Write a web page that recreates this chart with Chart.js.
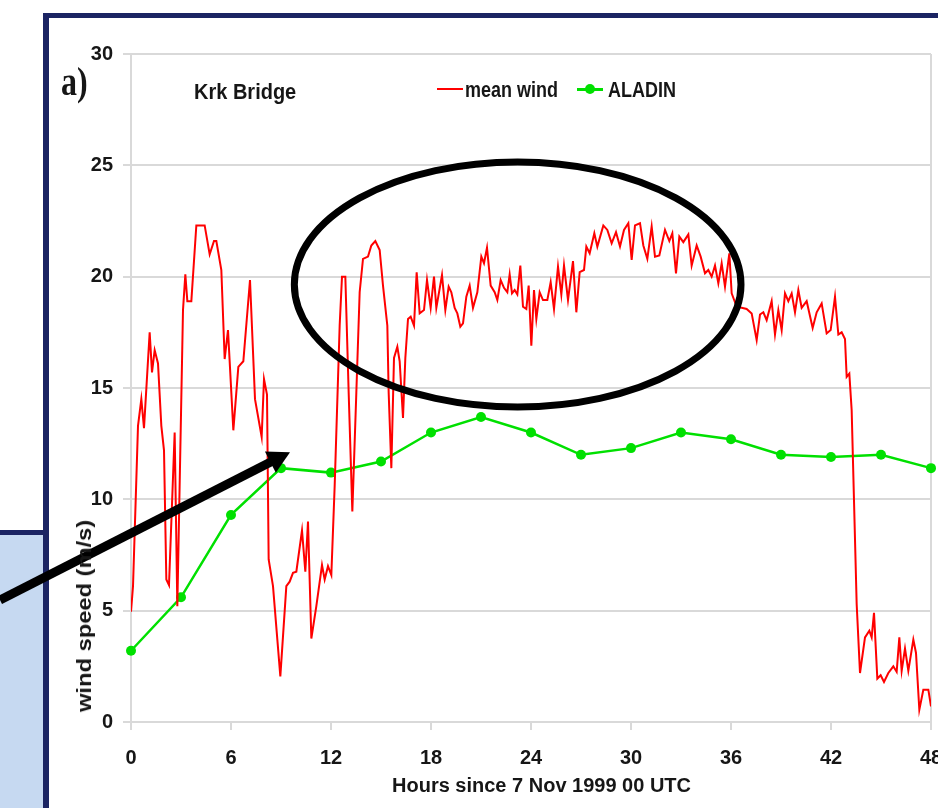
<!DOCTYPE html>
<html lang="en">
<head>
<meta charset="UTF-8">
<title>Krk Bridge mean wind vs ALADIN</title>
<script src="https://cdn.jsdelivr.net/npm/chart.js"></script>
<style>
  body { margin: 0; background: #fff; }
  #wrap { position: relative; width: 938px; height: 808px; overflow: hidden; }
  #chart { position: absolute; left: 0; top: 0; }
  .lbl {
    position: absolute; white-space: nowrap; color: #161616;
    font-family: 'Liberation Sans', Arial, sans-serif; font-weight: bold;
    line-height: 1; transform-origin: 0 0;
  }
  .swatch { position: absolute; height: 0; }
</style>
</head>
<body>
<div id="wrap">
  <canvas id="chart" width="938" height="808"></canvas>

  <div class="lbl" id="panel" style="left:61px; top:61px; font-family:'Liberation Serif','Times New Roman',serif; font-size:32px; transform:scaleY(1.25);">a)</div>
  <div class="lbl" style="left:194px; top:80px; font-size:20px; transform:scaleY(1.12);">Krk Bridge</div>

  <!-- legend -->
  <div class="swatch" style="left:437px; top:88px; width:26px; border-top:2px solid #ff0000;"></div>
  <div class="lbl" style="left:465px; top:79px; font-size:18px; transform:scaleY(1.2);">mean wind</div>
  <div class="swatch" style="left:577px; top:88px; width:26px; border-top:3px solid #00e000;"></div>
  <div class="swatch" style="left:585px; top:84px; width:10px; height:10px; border-radius:50%; background:#00e000;"></div>
  <div class="lbl" style="left:608px; top:79px; font-size:18px; transform:scaleY(1.2);">ALADIN</div>

  <div class="lbl" style="left:74px; top:712px; font-size:20px; transform:rotate(-90deg) scaleX(1.185);">wind speed (m/s)</div>
  <div class="lbl" style="left:392px; top:774px; font-size:20px; transform:scaleY(1.05);">Hours since 7 Nov 1999 00 UTC</div>
</div>

<script>
  // measured wind at the bridge (hours since 00 UTC, m/s)
  const windHours = [
    0.00, 0.12, 0.42, 0.62, 0.78, 1.12, 1.26, 1.42, 1.62, 1.82, 1.98, 2.12, 2.28, 2.62, 2.78,
    3.12, 3.26, 3.38, 3.62, 3.92, 4.42, 4.72, 4.98, 5.12, 5.42, 5.62, 5.82,
    6.14, 6.44, 6.74, 7.14, 7.44, 7.84, 7.98, 8.16, 8.26, 8.52, 8.96, 9.32, 9.52, 9.72, 9.92,
    10.26, 10.46, 10.62, 10.82, 11.12, 11.46, 11.62, 11.82, 12.02,
    12.22, 12.52, 12.66, 12.86, 13.06, 13.28, 13.52, 13.72, 13.92, 14.22, 14.42, 14.66, 14.92,
    15.12, 15.38, 15.46, 15.62, 15.78, 15.98, 16.12, 16.32, 16.46, 16.62, 16.78, 16.98,
    17.14, 17.32, 17.58, 17.76, 17.98, 18.18, 18.32, 18.66, 18.86, 19.06, 19.22, 19.42, 19.58,
    19.76, 19.92, 20.12, 20.32, 20.52, 20.78, 21.02, 21.18, 21.36, 21.58, 21.82, 21.98,
    22.18, 22.38, 22.58, 22.72, 22.86, 23.02, 23.18, 23.36, 23.52, 23.72, 23.86,
    24.02, 24.18, 24.32, 24.52, 24.72, 24.98, 25.18, 25.38, 25.62, 25.82, 25.98,
    26.22, 26.52, 26.72, 26.92, 27.18, 27.32, 27.52, 27.80, 27.98, 28.34, 28.58, 28.84,
    29.10, 29.34, 29.58, 29.84, 30.04, 30.24, 30.54, 30.74, 30.98, 31.24, 31.44, 31.70,
    32.04, 32.30, 32.48, 32.70, 32.90, 33.14, 33.44, 33.64, 33.94, 34.18, 34.44, 34.64, 34.84,
    35.04, 35.24, 35.44, 35.64, 35.90, 36.04, 36.34, 36.64, 36.94, 37.24, 37.54, 37.74, 37.94,
    38.14, 38.44, 38.64, 38.84, 39.04, 39.24, 39.44, 39.64, 39.84, 40.04, 40.24, 40.54,
    40.90, 41.14, 41.44, 41.74, 41.98, 42.24, 42.44, 42.64, 42.84, 42.94, 43.10, 43.24,
    43.54, 43.74, 44.04, 44.30, 44.44, 44.58, 44.78, 44.98, 45.18, 45.44, 45.74, 45.94,
    46.10, 46.24, 46.44, 46.64, 46.94, 47.10, 47.30, 47.54, 47.84, 48.00
  ];
  const windSpeed = [
    4.95, 6.1, 13.3, 14.5, 13.2, 17.5, 15.7, 16.7, 16.1, 13.3, 12.2, 6.4, 6.15, 13.0, 5.2,
    18.5, 20.1, 18.9, 18.9, 22.3, 22.3, 21.0, 21.6, 21.6, 20.3, 16.3, 17.6,
    13.1, 15.95, 16.2, 19.85, 14.5, 12.8, 15.4, 14.7, 7.3, 6.1, 2.05, 6.1, 6.3, 6.7, 6.75,
    8.6, 6.75, 9.0, 3.75, 5.2, 7.05, 6.4, 7.0, 6.6,
    10.6, 17.8, 20.0, 20.0, 14.8, 9.45, 14.8, 19.3, 20.8, 20.9, 21.4, 21.6, 21.2,
    19.6, 17.8, 14.8, 11.4, 16.35, 16.85, 16.2, 13.65, 16.35, 18.1, 18.2, 17.8,
    20.2, 18.35, 18.5, 19.85, 18.6, 20.0, 18.6, 20.07, 18.5, 19.55, 19.3, 18.6, 18.35,
    17.75, 17.9, 19.1, 19.6, 18.6, 19.3, 20.9, 20.6, 21.3, 19.6, 19.3, 18.95,
    19.85, 19.5, 19.3, 20.1, 19.25, 19.4, 19.2, 20.5, 18.65, 18.55, 19.6,
    16.9, 19.4, 18.1, 19.3, 18.95, 18.95, 19.75, 18.55, 20.45, 19.2, 20.5,
    18.95, 20.7, 18.4, 20.2, 20.3, 21.35, 21.05, 21.95, 21.35, 22.3, 22.1, 21.5,
    22.0, 21.35, 22.1, 22.4, 20.75, 22.3, 22.4, 21.4, 20.8, 22.25, 20.9, 20.95,
    22.1, 21.6, 21.95, 20.15, 21.8, 21.55, 21.9, 20.5, 21.4, 20.9, 20.15, 20.3, 20.0,
    20.5, 19.7, 20.6, 19.55, 21.05, 19.25, 18.65, 18.6, 18.55, 18.35, 17.15, 18.3, 18.4,
    18.05, 18.9, 17.4, 18.5, 17.6, 19.25, 18.9, 19.25, 18.4, 19.4, 18.6, 18.9,
    17.7, 18.4, 18.8, 17.45, 17.6, 19.1, 17.4, 17.5, 17.2, 15.5, 15.65, 14.0,
    5.3, 2.2, 3.8, 4.1, 3.8, 4.9, 1.95, 2.1, 1.8, 2.2, 2.5, 2.25,
    3.8, 2.3, 3.3, 2.3, 3.7, 3.1, 0.55, 1.45, 1.45, 0.7
  ];

  // ALADIN model output every 3 hours
  const aladinHours = [0, 3, 6, 9, 12, 15, 18, 21, 24, 27, 30, 33, 36, 39, 42, 45, 48];
  const aladinSpeed = [3.2, 5.6, 9.3, 11.4, 11.2, 11.7, 13.0, 13.7, 13.0, 12.0, 12.3, 13.0, 12.7, 12.0, 11.9, 12.0, 11.4];

  const hourTicks = [0, 6, 12, 18, 24, 30, 36, 42, 48];
  const speedTicks = [0, 5, 10, 15, 20, 25, 30];

  // overlay marks in data units: ellipse round the plateau, arrow pointing at 9 h
  const ringCentre = [23.2, 19.65];
  const ringRadii = [13.4, 5.5];
  const arrowFrom = [-7.86, 5.48];
  const arrowTo = [9.54, 12.12];

  const GRID = '#d9d9d9';
  const NAVY = '#1b2463';
  const tickFont = { family: "'Liberation Sans', Arial, sans-serif", size: 20, weight: 'bold' };

  const decorations = {
    id: 'decorations',
    afterDraw(chart) {
      const ctx = chart.ctx;
      const xs = chart.scales.x, ys = chart.scales.y;
      ctx.save();

      // slide frame and the blue box at the lower left
      ctx.fillStyle = NAVY;
      ctx.fillRect(43, 13, 895, 5);
      ctx.fillRect(43, 13, 6, 795);
      ctx.fillStyle = '#c6d9f1';
      ctx.fillRect(0, 535, 43, 273);
      ctx.fillStyle = NAVY;
      ctx.fillRect(0, 530, 43, 5);

      // ellipse
      const cx = xs.getPixelForValue(ringCentre[0]);
      const cy = ys.getPixelForValue(ringCentre[1]);
      const rx = xs.getPixelForValue(ringCentre[0] + ringRadii[0]) - cx;
      const ry = cy - ys.getPixelForValue(ringCentre[1] + ringRadii[1]);
      ctx.strokeStyle = '#000';
      ctx.lineWidth = 7;
      ctx.beginPath();
      ctx.ellipse(cx, cy, rx, ry, 0, 0, Math.PI * 2);
      ctx.stroke();

      // arrow
      const x0 = xs.getPixelForValue(arrowFrom[0]), y0 = ys.getPixelForValue(arrowFrom[1]);
      const x1 = xs.getPixelForValue(arrowTo[0]), y1 = ys.getPixelForValue(arrowTo[1]);
      const len = Math.hypot(x1 - x0, y1 - y0);
      const ux = (x1 - x0) / len, uy = (y1 - y0) / len;
      const head = 22, half = 12;
      const bx = x1 - ux * head, by = y1 - uy * head;
      ctx.lineWidth = 9;
      ctx.lineCap = 'butt';
      ctx.beginPath();
      ctx.moveTo(x0, y0);
      ctx.lineTo(bx + ux * 2, by + uy * 2);
      ctx.stroke();
      ctx.fillStyle = '#000';
      ctx.beginPath();
      ctx.moveTo(x1, y1);
      ctx.lineTo(bx - uy * half, by + ux * half);
      ctx.lineTo(bx + uy * half, by - ux * half);
      ctx.closePath();
      ctx.fill();

      ctx.restore();
    }
  };

  new Chart(document.getElementById('chart'), {
    type: 'line',
    data: {
      datasets: [{
        label: 'mean wind',
        data: windHours.map((h, i) => ({ x: h, y: windSpeed[i] })),
        borderColor: '#ff0000',
        borderWidth: 2,
        pointRadius: 0,
        tension: 0
      }, {
        label: 'ALADIN',
        data: aladinHours.map((h, i) => ({ x: h, y: aladinSpeed[i] })),
        borderColor: '#00e000',
        backgroundColor: '#00e000',
        borderWidth: 2.5,
        pointRadius: 5,
        pointBorderWidth: 0,
        tension: 0,
        clip: 8
      }]
    },
    options: {
      responsive: false,
      animation: false,
      layout: { padding: { top: 54, right: 7, bottom: 0, left: 0 } },
      plugins: { legend: { display: false }, tooltip: { enabled: false } },
      scales: {
        x: {
          type: 'linear',
          min: 0,
          max: 48,
          afterBuildTicks: s => { s.ticks = hourTicks.map(v => ({ value: v })); },
          afterFit: s => { s.height = 86; s.paddingLeft = 0; s.paddingRight = 0; },
          ticks: { font: tickFont, color: '#161616', padding: 16, maxRotation: 0, autoSkip: false },
          grid: {
            color: c => (c.tick && c.tick.value === 48 ? GRID : 'rgba(0,0,0,0)'),
            tickColor: GRID,
            tickLength: 8,
            lineWidth: 2
          },
          border: { color: GRID, width: 2 }
        },
        y: {
          min: 0,
          max: 30,
          afterBuildTicks: s => { s.ticks = speedTicks.map(v => ({ value: v })); },
          afterFit: s => { s.width = 131; },
          ticks: { font: tickFont, color: '#161616', padding: 10 },
          grid: { color: GRID, tickColor: GRID, tickLength: 8, lineWidth: 2 },
          border: { color: GRID, width: 2 }
        }
      }
    },
    plugins: [decorations]
  });
</script>
</body>
</html>
